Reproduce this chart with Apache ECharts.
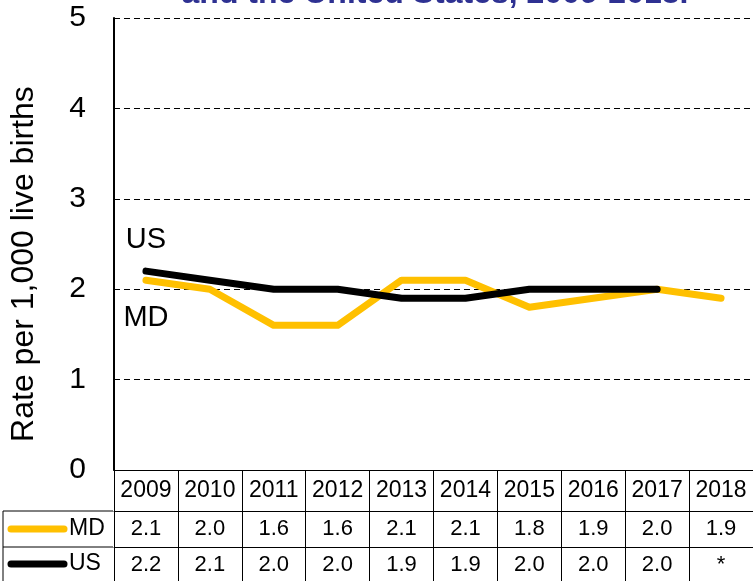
<!DOCTYPE html>
<html>
<head>
<meta charset="utf-8">
<script src="https://cdn.jsdelivr.net/npm/echarts@6/dist/echarts.min.js"></script>
<style>
  html, body { margin: 0; padding: 0; background: #fff; }
  #chart { width: 753px; height: 581px; }
</style>
</head>
<body>
<div id="chart"></div>
<script>
// data
const years = ['2009', '2010', '2011', '2012', '2013', '2014', '2015', '2016', '2017', '2018']
const mdRates = [2.1, 2.0, 1.6, 1.6, 2.1, 2.1, 1.8, 1.9, 2.0, 1.9]
const usRates = [2.2, 2.1, 2.0, 2.0, 1.9, 1.9, 2.0, 2.0, 2.0, null]
const yTicks = [0, 1, 2, 3, 4, 5]

const MD_COLOR = '#FFC000'
const US_COLOR = '#000000'
const FONT = 'Arial, "Liberation Sans", sans-serif'

const fmt = (v) => (v == null ? '*' : v.toFixed(1))

const chart = echarts.init(document.getElementById('chart'))

// extra x axes act as the rows of the data table under the plot
const tableAxis = (offset, values) => ({
  type: 'category',
  data: years,
  position: 'bottom',
  offset: offset,
  boundaryGap: true,
  axisLine: { show: true, lineStyle: { color: '#000', width: 1 } },
  axisTick: { show: false },
  axisLabel: {
    interval: 0,
    margin: 7,
    fontSize: 22,
    fontFamily: FONT,
    color: '#000',
    formatter: (v, i) => fmt(values[i]),
  },
})

const lineLabel = (text, position, distance) => ({
  show: true,
  position: position,
  distance: distance,
  color: '#000',
  fontSize: 29,
  fontFamily: FONT,
  formatter: (p) => (p.dataIndex === 0 ? text : ''),
})

chart.setOption({
  animation: false,
  title: {
    text: 'and the United States, 2009-2018.',
    left: 430,
    textAlign: 'center',
    top: -27,
    textStyle: { color: '#2E3192', fontSize: 32, fontWeight: 'bold', fontFamily: FONT },
  },
  grid: { left: 113, right: 0, top: 18, bottom: 111 },
  xAxis: [
    {
      type: 'category',
      data: years,
      boundaryGap: true,
      axisLine: { show: true, lineStyle: { color: '#000', width: 1 } },
      axisTick: { show: true, interval: 0, length: 111, lineStyle: { color: '#000' } },
      axisLabel: { interval: 0, margin: 9, fontSize: 23, fontFamily: FONT, color: '#000' },
    },
    tableAxis(41, mdRates),
    tableAxis(77, usRates),
  ],
  yAxis: {
    type: 'value',
    min: yTicks[0],
    max: yTicks[yTicks.length - 1],
    interval: 1,
    name: 'Rate per 1,000 live births',
    nameLocation: 'middle',
    nameGap: 74,
    nameTextStyle: { fontSize: 32, fontFamily: FONT, color: '#000', padding: [0, 40, 0, 0] },
    axisLine: { show: true, lineStyle: { color: '#000', width: 2 } },
    axisTick: { show: false },
    axisLabel: { margin: 28, fontSize: 30, fontFamily: FONT, color: '#000' },
    splitLine: { show: true, lineStyle: { color: '#000', type: [6, 4], width: 1 } },
  },
  series: [
    {
      name: 'MD',
      type: 'line',
      data: mdRates,
      symbol: 'circle',
      symbolSize: 0,
      lineStyle: { color: MD_COLOR, width: 7, cap: 'round', join: 'round' },
      itemStyle: { color: MD_COLOR },
      z: 3,
      label: lineLabel('MD', 'bottom', 23),
    },
    {
      name: 'US',
      type: 'line',
      data: usRates,
      symbol: 'circle',
      symbolSize: 0,
      lineStyle: { color: US_COLOR, width: 7, cap: 'round', join: 'round' },
      itemStyle: { color: US_COLOR },
      z: 4,
      label: lineLabel('US', 'top', 17),
    },
  ],
  // legend cells on the left side of the table
  graphic: [
    { type: 'line', shape: { x1: 3, y1: 511, x2: 113, y2: 511 }, style: { stroke: '#000', lineWidth: 1 } },
    { type: 'line', shape: { x1: 3, y1: 547, x2: 113, y2: 547 }, style: { stroke: '#000', lineWidth: 1 } },
    { type: 'line', shape: { x1: 3, y1: 511, x2: 3, y2: 581 }, style: { stroke: '#000', lineWidth: 1 } },
    { type: 'line', shape: { x1: 11, y1: 529, x2: 64, y2: 529 }, style: { stroke: MD_COLOR, lineWidth: 7, lineCap: 'round' } },
    { type: 'line', shape: { x1: 11, y1: 564, x2: 64, y2: 564 }, style: { stroke: US_COLOR, lineWidth: 7, lineCap: 'round' } },
    { type: 'text', left: 69, top: 517, style: { text: 'MD', font: '23px ' + FONT, fill: '#000' } },
    { type: 'text', left: 69, top: 552, style: { text: 'US', font: '23px ' + FONT, fill: '#000' } },
  ],
})
</script>
</body>
</html>
